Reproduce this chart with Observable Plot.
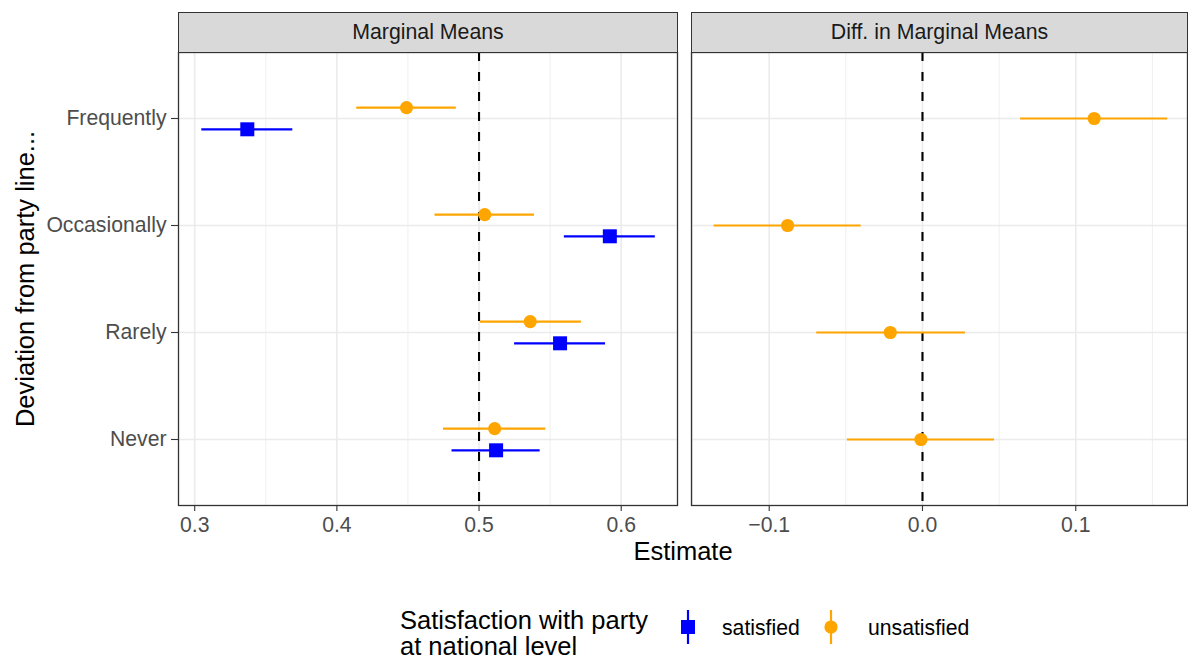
<!DOCTYPE html>
<html>
<head>
<meta charset="utf-8">
<script src="https://cdn.jsdelivr.net/npm/d3@7"></script>
<script src="https://cdn.jsdelivr.net/npm/@observablehq/plot@0.6"></script>
<style>
  html, body { margin: 0; padding: 0; background: #fff; }
  body { font-family: "Liberation Sans", Arial, Helvetica, sans-serif; }
  #wrap { position: relative; width: 1188px; height: 662px; overflow: hidden; background: #fff; }
  .abs { position: absolute; }
  .strip { position: absolute; box-sizing: border-box; background: #D9D9D9; border: 1.3px solid #333333;
           font-size: 21.3px; color: #1A1A1A; display: flex; align-items: center; justify-content: center; }
</style>
</head>
<body>
<div id="wrap"></div>
<script>
// ---- data ----
const categories = ["Frequently", "Occasionally", "Rarely", "Never"];
const seriesNames = ["satisfied", "unsatisfied"];
const seriesColors = ["#0000FF", "#FFA500"];
const panelTitles = ["Marginal Means", "Diff. in Marginal Means"];

const mmSatisfiedEst = [0.337, 0.592, 0.557, 0.512];
const mmSatisfiedLo  = [0.305, 0.560, 0.525, 0.481];
const mmSatisfiedHi  = [0.369, 0.624, 0.589, 0.543];

const mmUnsatisfiedEst = [0.449, 0.504, 0.536, 0.511];
const mmUnsatisfiedLo  = [0.414, 0.469, 0.501, 0.475];
const mmUnsatisfiedHi  = [0.484, 0.539, 0.572, 0.547];

const diffUnsatisfiedEst = [0.112, -0.088, -0.021, -0.001];
const diffUnsatisfiedLo  = [0.064, -0.136, -0.069, -0.049];
const diffUnsatisfiedHi  = [0.160, -0.040, 0.028, 0.047];

const leftTicks = [0.3, 0.4, 0.5, 0.6];
const leftMinor = [0.35, 0.45, 0.55];
const rightTicks = [-0.1, 0.0, 0.1];
const rightMinor = [-0.15, -0.05, 0.05, 0.15];
const leftRef = 0.5, rightRef = 0.0;

// ---- build tables ----
const rows = (est, lo, hi) => categories.map((c, i) => ({cat: c, est: est[i], lo: lo[i], hi: hi[i]}));
const mmSat = rows(mmSatisfiedEst, mmSatisfiedLo, mmSatisfiedHi);
const mmUns = rows(mmUnsatisfiedEst, mmUnsatisfiedLo, mmUnsatisfiedHi);
const diffUns = rows(diffUnsatisfiedEst, diffUnsatisfiedLo, diffUnsatisfiedHi);

const FONT = '"Liberation Sans", Arial, Helvetica, sans-serif';
const TICK = 21.2, TITLE = 25.5;
const PANEL_H = 453;
const dodge = 10.8;

function panel({domain, ticks, minor, ref, series, width, mLeft, mRight, showY}) {
  const marks = [
    Plot.gridX(minor, {stroke: "#EBEBEB", strokeOpacity: 1, strokeWidth: 0.8}),
    Plot.gridX(ticks, {stroke: "#EBEBEB", strokeOpacity: 1, strokeWidth: 1.6}),
    Plot.gridY(categories, {stroke: "#EBEBEB", strokeOpacity: 1, strokeWidth: 1.6}),
    Plot.ruleX([ref], {stroke: "#000", strokeWidth: 2.1, strokeDasharray: "9,11"}),
  ];
  for (const s of series) {
    marks.push(Plot.ruleY(s.data, {y: "cat", x1: "lo", x2: "hi", stroke: s.color, strokeWidth: 2.2, dy: s.dy}));
    marks.push(Plot.dot(s.data, {y: "cat", x: "est", fill: s.color, stroke: "none", symbol: s.symbol, r: s.r, dy: s.dy}));
  }
  marks.push(Plot.frame({stroke: "#333333", strokeWidth: 1.3}));
  marks.push(Plot.axisX(ticks, {tickSize: 6, tickPadding: 5, fontSize: TICK, fill: "#4D4D4D", stroke: "#333333", strokeWidth: 1.1,
    tickFormat: d3.format(".1f"), label: null}));
  if (showY) {
    marks.push(Plot.axisY(categories, {tickSize: 7, tickPadding: 5, fontSize: TICK, fill: "#4D4D4D", stroke: "#333333", strokeWidth: 1.1, label: null}));
    marks.push(Plot.text(["Deviation from party line..."], {frameAnchor: "left", textAnchor: "middle", lineAnchor: "middle",
      rotate: -90, dx: -153, fontSize: TITLE, fill: "#000"}));
  }
  return Plot.plot({
    width, height: 2 + PANEL_H + 45,
    marginTop: 2, marginBottom: 45, marginLeft: mLeft, marginRight: mRight,
    style: {fontFamily: FONT, background: "transparent", overflow: "visible"},
    x: {domain, axis: null},
    y: {type: "point", domain: categories, padding: 0.6, axis: null},
    marks
  });
}

const wrap = document.getElementById("wrap");

const left = panel({
  domain: [0.2886, 0.6396], ticks: leftTicks, minor: leftMinor, ref: leftRef,
  width: 680, mLeft: 178, mRight: 3, showY: true,
  series: [
    {data: mmSat, color: seriesColors[0], symbol: "square", r: 7.9, dy: dodge},
    {data: mmUns, color: seriesColors[1], symbol: "circle", r: 6.6, dy: -dodge}
  ]
});
left.style.position = "absolute"; left.style.left = "0px"; left.style.top = "50px";
wrap.appendChild(left);

const right = panel({
  domain: [-0.1507, 0.1729], ticks: rightTicks, minor: rightMinor, ref: rightRef,
  width: 502, mLeft: 5, mRight: 1, showY: false,
  series: [
    {data: diffUns, color: seriesColors[1], symbol: "circle", r: 6.6, dy: 0}
  ]
});
right.style.position = "absolute"; right.style.left = "686px"; right.style.top = "50px";
wrap.appendChild(right);

// strips
[[178, 500, panelTitles[0]], [691, 497, panelTitles[1]]].forEach(([l, w, t]) => {
  const d = document.createElement("div");
  d.className = "strip";
  d.style.left = l + "px"; d.style.top = "12px"; d.style.width = w + "px"; d.style.height = "41px";
  d.textContent = t;
  wrap.appendChild(d);
});

// x title
const xt = document.createElement("div");
xt.className = "abs";
xt.style.cssText = `left:0;width:1366px;top:537px;text-align:center;font-size:${TITLE}px;color:#000;`;
xt.textContent = "Estimate";
wrap.appendChild(xt);

// legend
const NS = "http://www.w3.org/2000/svg";
const lg = document.createElementNS(NS, "svg");
lg.setAttribute("width", 1188); lg.setAttribute("height", 72);
lg.style.cssText = "position:absolute;left:0;top:590px;font-family:" + FONT;
const mk = (tag, attrs, text) => { const e = document.createElementNS(NS, tag); for (const k in attrs) e.setAttribute(k, attrs[k]); if (text) e.textContent = text; lg.appendChild(e); return e; };
mk("text", {x: 400, y: 39, "font-size": TITLE, fill: "#000"}, "Satisfaction with party");
mk("text", {x: 400, y: 65, "font-size": TITLE, fill: "#000"}, "at national level");
const cy = 37;
const keyX = [688, 831], textX = [722, 868];
seriesNames.forEach((n, i) => {
  mk("line", {x1: keyX[i], x2: keyX[i], y1: cy - 17, y2: cy + 17, stroke: seriesColors[i], "stroke-width": 2.2});
  if (i === 0) mk("rect", {x: keyX[i] - 7, y: cy - 7, width: 14, height: 14, fill: seriesColors[i]});
  else mk("circle", {cx: keyX[i], cy: cy, r: 6.6, fill: seriesColors[i]});
  mk("text", {x: textX[i], y: cy + 7.5, "font-size": TICK, fill: "#000"}, n);
});
wrap.appendChild(lg);
</script>
</body>
</html>
